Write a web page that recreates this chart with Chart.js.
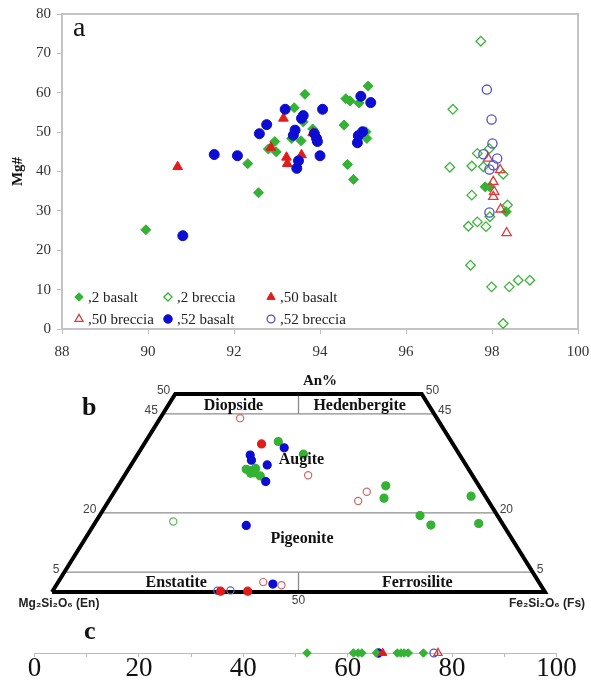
<!DOCTYPE html>
<html>
<head>
<meta charset="utf-8">
<script src="https://cdn.jsdelivr.net/npm/chart.js@4.4.1/dist/chart.umd.min.js"></script>
<style>
  body{margin:0;background:#fff;width:591px;height:683px;position:relative;overflow:hidden}
  canvas{position:absolute;left:0}
</style>
</head>
<body>
<canvas id="cA" width="591" height="395" style="top:0"></canvas>
<canvas id="cB" width="591" height="229" style="top:383px"></canvas>
<canvas id="cC" width="591" height="71" style="top:612px"></canvas>
<script>
// ---- panel a: plagioclase An% vs Mg# ([An, Mg#]) ----
const basalt2 = [[89.95,25.2],[92.32,42.0],[92.57,34.6],[92.8,45.7],[92.98,45.0],[92.95,47.6],[93.34,48.4],
  [93.4,56.2],[93.56,47.8],[93.61,52.6],[93.65,59.6],[93.83,50.8],[94.56,51.8],[94.6,58.5],[94.64,41.8],
  [94.7,57.9],[94.78,38.0],[94.91,57.4],[95.07,50.1],[95.09,48.4],[95.12,61.7],[97.84,36.1],[97.95,36.1],[98.33,29.8]];
const breccia2 = [[97.74,73.1],[97.09,55.8],[97.02,41.1],[97.66,44.6],[97.53,41.4],[97.8,41.2],[97.94,45.8],
  [98.26,39.3],[97.53,34.0],[98.36,31.5],[97.95,28.5],[97.45,26.1],[97.66,27.2],[97.86,26.0],[97.5,16.2],
  [97.99,10.7],[98.4,10.7],[98.61,12.4],[98.88,12.4],[98.26,1.4]];
const basalt50 = [[90.69,41.2],[92.86,46.1],[93.15,53.5],[93.22,43.6],[93.24,42.0],[93.57,44.2],[93.83,49.8]];
const breccia50 = [[97.91,43.3],[98.19,40.4],[98.03,37.4],[98.05,34.9],[98.03,33.6],[98.2,30.4],[98.34,24.4]];
const basalt52 = [[90.81,23.7],[91.54,44.3],[92.08,44.0],[92.59,49.6],[92.76,51.9],[93.19,55.8],[93.38,49.2],
  [93.42,50.5],[93.46,40.8],[93.5,42.7],[93.57,53.5],[93.61,54.2],[93.87,49.6],[93.92,48.4],[93.94,47.6],
  [94.0,44.0],[94.06,55.8],[94.87,47.3],[94.89,49.1],[94.95,59.1],[94.99,50.1],[95.18,57.5]];
const breccia52 = [[97.88,60.8],[97.99,53.2],[98.01,47.1],[97.8,44.4],[98.12,43.3],[98.03,41.6],[97.94,40.5],[97.94,29.6]];
const xTicksA = [88,90,92,94,96,98,100];
const yTicksA = [0,10,20,30,40,50,60,70,80];

// ---- panel b: pyroxene quadrilateral ([Wo, Fs]) ----
const pyxBasalt2 = [[38.0,26.9],[34.8,33.6],[31.0,23.9],[30.7,25.2],[31.2,25.7],[30.0,25.3],[30.1,26.0],
  [29.3,27.6],[26.8,54.3],[23.7,55.5],[24.2,72.9],[19.3,65.0],[16.9,68.4],[17.3,77.9]];
const pyxBreccia2 = [[17.8,15.7]];
const pyxBasalt50 = [[37.4,23.8],[0.2,34.1],[0.2,39.6]];
const pyxBreccia50 = [[43.9,16.2],[29.5,37.2],[25.3,51.2],[23.0,50.6],[2.5,41.6],[1.7,45.7]];
const pyxBasalt52 = [[36.4,28.9],[34.6,22.9],[33.3,23.8],[32.1,27.6],[27.9,29.4],[16.8,31.0],[2.0,43.8]];
const pyxBreccia52 = [[0.3,33.4],[0.4,36.0]];
const woTop = 50;
const woLines = [45, 20, 5];
const fieldNames = ['Diopside','Hedenbergite','Augite','Pigeonite','Enstatite','Ferrosilite'];

// ---- panel c ----
const cBasalt2 = [52.2,61.1,62.0,62.7,65.5,69.5,70.2,70.8,71.6,74.5];
const cBasalt52 = [65.9];
const cBasalt50 = [66.7];
const cBreccia52 = [76.5];
const cBreccia50 = [77.3];
const cTicks = [0,10,20,30,40,50,60,70,80,90,100];
const cLabels = [0,20,40,60,80,100];

const SERIF = "'Liberation Serif','Times New Roman',serif";
const SANS = "'Liberation Sans',Arial,sans-serif";
const GREEN = '#33b233', BLUE = '#0c0cd2', RED = '#e21b1b';
const NONE = 'rgba(255,255,255,0)';

const STYLE = {
  b2:  {shape:'rectRot', fill:GREEN, stroke:GREEN, w:1, r:5},
  r2:  {shape:'rectRot', fill:NONE, stroke:'#3cb43c', w:1.3, r:4.8},
  b50: {shape:'triangle', fill:RED, stroke:RED, w:1, r:5.6},
  r50: {shape:'triangle', fill:NONE, stroke:'#e03a3a', w:1.3, r:5.4},
  b52: {shape:'circle', fill:BLUE, stroke:BLUE, w:1, r:5},
  r52: {shape:'circle', fill:NONE, stroke:'#5252c8', w:1.3, r:4.6}
};

function pointDs(points, st, k, extra){
  const s = STYLE[st];
  return Object.assign({
    data: points, clip:false, showLine:false,
    pointStyle:s.shape, pointRadius:s.r*k, pointHoverRadius:s.r*k,
    pointBackgroundColor:s.fill, pointBorderColor:s.stroke, pointBorderWidth:s.w
  }, extra || {});
}
function ordered(list){ list.forEach((d,i)=>{ d.order = list.length - i; }); return list; }
const xy = p => ({x:p[0], y:p[1]});

// ================= chart a =================
const seriesA = [
  {label:',2 basalt', data:basalt2, st:'b2'},
  {label:',2 breccia', data:breccia2, st:'r2'},
  {label:',50 basalt', data:basalt50, st:'b50'},
  {label:',50 breccia', data:breccia50, st:'r50'},
  {label:',52 basalt', data:basalt52, st:'b52'},
  {label:',52 breccia', data:breccia52, st:'r52'}
];

const frameA = {
  id:'frameA',
  beforeDatasetsDraw(chart){
    const {ctx, chartArea:a} = chart;
    ctx.save(); ctx.strokeStyle = '#c4c4c4'; ctx.lineWidth = 2;
    ctx.strokeRect(a.left, a.top, a.right - a.left, a.bottom - a.top);
    ctx.restore();
  },
  afterDraw(chart){
    const ctx = chart.ctx;
    ctx.save();
    ctx.fillStyle = '#111'; ctx.font = '28px ' + SERIF;
    ctx.textBaseline = 'alphabetic'; ctx.fillText('a', 73, 36);
    // legend
    const colX = [79, 168, 271], rowY = [297, 319];
    ctx.font = '15px ' + SERIF; ctx.textBaseline = 'middle';
    seriesA.forEach((s,i)=>{
      const x = colX[i % 3], y = rowY[Math.floor(i / 3)], st = STYLE[s.st];
      ctx.fillStyle = st.fill; ctx.strokeStyle = st.stroke; ctx.lineWidth = st.w;
      Chart.helpers.drawPoint(ctx, {pointStyle:st.shape, radius:st.r*0.85, borderWidth:st.w}, x, y);
      ctx.fillStyle = '#222';
      ctx.fillText(s.label, x + 9, y + 1);
    });
    ctx.restore();
  }
};

new Chart(document.getElementById('cA'), {
  type:'scatter',
  data:{datasets: ordered(seriesA.map(s => pointDs(s.data.map(xy), s.st, 1, {label:s.label})))},
  options:{
    responsive:false, animation:false, events:[],
    layout:{padding:{left:0, right:13, top:14, bottom:0}},
    plugins:{legend:{display:false}, tooltip:{enabled:false}},
    scales:{
      x:{type:'linear', min:88, max:100,
        afterBuildTicks:s => { s.ticks = xTicksA.map(v => ({value:v})); },
        afterFit:s => { s.height = 66; s.paddingLeft = 0; s.paddingRight = 0; },
        ticks:{font:{family:SERIF, size:15}, color:'#333', padding:9, maxRotation:0, autoSkip:false},
        grid:{drawOnChartArea:false, tickLength:5, color:'#bdbdbd'},
        border:{display:false},
        title:{display:true, text:'An%', color:'#111', font:{family:SERIF, size:15, weight:'bold'}, padding:{top:0, bottom:5}}
      },
      y:{type:'linear', min:0, max:80,
        afterBuildTicks:s => { s.ticks = yTicksA.map(v => ({value:v})); },
        afterFit:s => { s.width = 62; s.paddingTop = 0; s.paddingBottom = 0; },
        ticks:{font:{family:SERIF, size:15}, color:'#333', padding:6},
        grid:{drawOnChartArea:false, tickLength:5, color:'#bdbdbd'},
        border:{display:false},
        title:{display:true, text:'Mg#', color:'#111', font:{family:SERIF, size:15, weight:'bold'}, padding:{top:9, bottom:0}}
      }
    }
  },
  plugins:[frameA]
});

// ================= chart b =================
const toPlot = p => ({x: p[1] + p[0] / 2, y: p[0]});   // [Wo, Fs] -> quadrilateral position
const lineDs = (pts, color, width) => ({data:pts.map(xy), showLine:true, clip:false, pointRadius:0,
  borderColor:color, borderWidth:width, borderJoinStyle:'miter', borderCapStyle:'butt', fill:false});

const datasetsB = [];
woLines.forEach(w => datasetsB.push(lineDs([[w/2, w],[100 - w/2, w]], '#8c8c8c', 1.3)));
datasetsB.push(lineDs([[50, woLines[0]],[50, woTop]], '#8c8c8c', 1.3));
datasetsB.push(lineDs([[50, 0],[50, woLines[2]]], '#8c8c8c', 1.3));
datasetsB.push(lineDs([[0,0],[woTop/2, woTop],[100 - woTop/2, woTop],[100,0],[0,0]], '#000', 4));
[[pyxBasalt2,'b2'],[pyxBreccia2,'r2'],[pyxBasalt52,'b52'],[pyxBreccia52,'r52'],[pyxBasalt50,'b50'],[pyxBreccia50,'r50']]
  .forEach(([pts, st]) => {
    const d = pointDs(pts.map(toPlot), st, 1);
    d.pointStyle = 'circle'; d.pointRadius = d.pointHoverRadius = (STYLE[st].fill === NONE ? 3.6 : 4);
    if (st === 'r50') d.pointBorderColor = '#d06a6a';
    if (st === 'r2') d.pointBorderColor = '#5cb85c';
    if (st === 'r52') d.pointBorderColor = '#6262cc';
    d.pointBorderWidth = 1.2;
    datasetsB.push(d);
  });

const labelsB = {
  id:'labelsB',
  afterDraw(chart){
    const {ctx} = chart, X = chart.scales.x, Y = chart.scales.y;
    const px = v => X.getPixelForValue(v), py = v => Y.getPixelForValue(v);
    ctx.save();
    ctx.fillStyle = '#111';
    ctx.font = 'bold 26px ' + SERIF; ctx.textBaseline = 'alphabetic'; ctx.textAlign = 'left';
    ctx.fillText('b', 82, 32);
    const namePos = [[36.8,47.2],[62.4,47.2],[50.6,33.6],[50.7,13.6],[25.2,2.5],[74.1,2.5]];
    ctx.font = 'bold 16px ' + SERIF; ctx.textAlign = 'center'; ctx.textBaseline = 'middle';
    fieldNames.forEach((n,i) => ctx.fillText(n, px(namePos[i][0]), py(namePos[i][1]) + 1));
    // Wo ticks on both edges
    ctx.font = '12px ' + SANS; ctx.fillStyle = '#444';
    [woTop].concat(woLines).forEach(w => {
      ctx.textAlign = 'right'; ctx.fillText(String(w), px(w/2) - 5, py(w) - 3);
      ctx.textAlign = 'left'; ctx.fillText(String(w), px(100 - w/2) + 4, py(w) - 3);
    });
    ctx.textAlign = 'center'; ctx.fillText('50', px(50), py(0) + 9);
    ctx.font = 'bold 12px ' + SANS; ctx.fillStyle = '#222';
    ctx.fillText('Mg\u2082Si\u2082O\u2086 (En)', px(0) + 7, py(0) + 12);
    ctx.fillText('Fe\u2082Si\u2082O\u2086 (Fs)', px(100) + 2, py(0) + 12);
    ctx.restore();
  }
};

new Chart(document.getElementById('cB'), {
  type:'scatter',
  data:{datasets: ordered(datasetsB)},
  options:{
    responsive:false, animation:false, events:[],
    layout:{padding:{left:52, right:46, top:11, bottom:20}},
    plugins:{legend:{display:false}, tooltip:{enabled:false}},
    scales:{
      x:{type:'linear', min:0, max:100, display:false},
      y:{type:'linear', min:0, max:woTop, display:false}
    }
  },
  plugins:[labelsB]
});

// ================= chart c =================
const seriesC = [[cBasalt52,'b52'],[cBasalt2,'b2'],[cBasalt50,'b50'],[cBreccia52,'r52'],[cBreccia50,'r50']];
new Chart(document.getElementById('cC'), {
  type:'scatter',
  data:{datasets: ordered(seriesC.map(([vals, st]) => pointDs(vals.map(v => ({x:v, y:0})), st, 0.85)))},
  options:{
    responsive:false, animation:false, events:[],
    layout:{padding:{left:34.6, right:34.5, top:20, bottom:0}},
    plugins:{legend:{display:false}, tooltip:{enabled:false}},
    scales:{
      x:{type:'linear', min:0, max:100,
        afterBuildTicks:s => { s.ticks = cTicks.map(v => ({value:v})); },
        afterFit:s => { s.height = 30; s.paddingLeft = 0; s.paddingRight = 0; },
        ticks:{autoSkip:false, maxRotation:0, padding:-4, font:{family:SERIF, size:27}, color:'#111',
          callback:v => cLabels.includes(v) ? String(v) : ''},
        grid:{drawOnChartArea:false, tickLength:4, color:'#bbb'},
        border:{color:'#bbb', width:1}
      },
      y:{type:'linear', min:0, max:1, display:false}
    }
  },
  plugins:[{id:'labelC', afterDraw(chart){
    const ctx = chart.ctx; ctx.save();
    ctx.fillStyle = '#111'; ctx.font = 'bold 26px ' + SERIF; ctx.textBaseline = 'alphabetic';
    ctx.fillText('c', 84, 27); ctx.restore();
  }}]
});
</script>
</body>
</html>
